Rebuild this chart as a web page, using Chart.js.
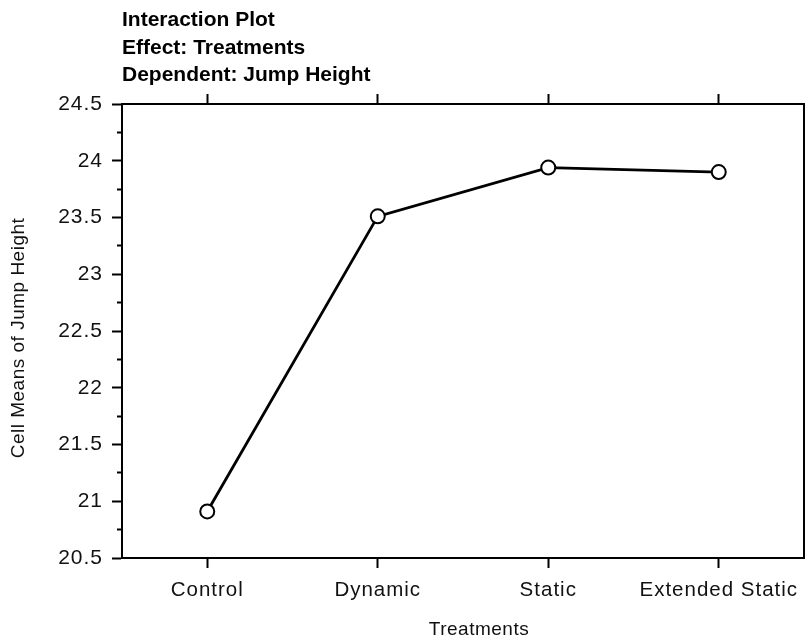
<!DOCTYPE html>
<html>
<head>
<meta charset="utf-8">
<script src="https://cdn.jsdelivr.net/npm/chart.js@4.4.0/dist/chart.umd.min.js"></script>
<style>
  html, body { margin: 0; padding: 0; background: #fff; }
  #wrap { width: 805px; height: 640px; }
</style>
</head>
<body>
<div id="wrap"><canvas id="chart"></canvas></div>
<script>
// ===============================
// DATA
// ===============================
const treatments = ["Control", "Dynamic", "Static", "Extended Static"];
const cellMeans = [20.91, 23.51, 23.94, 23.90];
const titleLines = ["Interaction Plot", "Effect: Treatments", "Dependent: Jump Height"];
const xAxisTitle = "Treatments";
const yAxisTitle = "Cell Means of Jump Height";
const yMin = 20.5;
const yMax = 24.5;
const yStep = 0.25;

const FONT = "'Liberation Sans', Arial, Helvetica, sans-serif";
const INK = "#000";

// ===============================
// TITLES + LETTER SPACING
// ===============================
const titleBlock = {
  id: "titleBlock",
  beforeDraw(chart) {
    chart.ctx.letterSpacing = "1px";
  },
  afterDraw(chart) {
    const ctx = chart.ctx;
    const area = chart.chartArea;
    ctx.save();
    ctx.fillStyle = INK;

    // header lines, no extra spacing
    ctx.letterSpacing = "0px";
    ctx.font = "bold 21px " + FONT;
    ctx.textAlign = "left";
    ctx.textBaseline = "alphabetic";
    titleLines.forEach((line, i) => {
      ctx.fillText(line, area.left, 26 + i * 27.5);
    });

    // axis titles
    ctx.letterSpacing = "0.5px";
    ctx.font = "19px " + FONT;
    ctx.fillStyle = "#111";
    ctx.textAlign = "center";
    ctx.textBaseline = "middle";
    ctx.fillText(xAxisTitle, (area.left + area.right) / 2 + 16, 629.5);

    ctx.save();
    ctx.translate(19, (area.top + area.bottom) / 2 + 7);
    ctx.rotate(-Math.PI / 2);
    ctx.fillText(yAxisTitle, 0, 0);
    ctx.restore();

    ctx.restore();
  }
};

const isMajor = v => Number.isInteger(Math.round(v * 1000) / 500);

// ===============================
// CHART
// ===============================
new Chart(document.getElementById("chart"), {
  type: "line",
  data: {
    labels: treatments,
    datasets: [{
      data: cellMeans,
      borderColor: INK,
      borderWidth: 2.8,
      tension: 0,
      pointRadius: 7,
      pointHoverRadius: 7,
      pointBorderWidth: 2,
      pointBorderColor: INK,
      pointBackgroundColor: "#fff"
    }]
  },
  options: {
    responsive: true,
    maintainAspectRatio: false,
    animation: false,
    layout: {
      autoPadding: false,
      padding: { top: 94, right: 1, bottom: 0, left: 0 }
    },
    plugins: {
      legend: { display: false },
      tooltip: { enabled: false },
      title: { display: false }
    },
    scales: {
      x: {
        type: "category",
        position: "bottom",
        offset: true,
        grid: {
          drawOnChartArea: false,
          drawTicks: true,
          tickLength: 10,
          tickWidth: 2,
          tickColor: INK,
          offset: false
        },
        border: { display: true, color: INK, width: 2 },
        ticks: {
          color: "#111",
          font: { family: FONT, size: 20.5, lineHeight: 1.2 },
          padding: 10,
          maxRotation: 0,
          autoSkip: false
        },
        afterFit: s => {
          s.height = 82;
          s.paddingLeft = 0;
          s.paddingRight = 0;
        }
      },
      xTop: {
        type: "category",
        position: "top",
        labels: treatments,
        offset: true,
        grid: {
          drawOnChartArea: false,
          drawTicks: true,
          tickLength: 10,
          tickWidth: 2,
          tickColor: INK,
          offset: false
        },
        border: { display: true, color: INK, width: 2 },
        ticks: { display: false },
        afterFit: s => {
          s.height = 10;
          s.paddingLeft = 0;
          s.paddingRight = 0;
        }
      },
      y: {
        type: "linear",
        position: "left",
        min: yMin,
        max: yMax,
        grid: {
          drawOnChartArea: false,
          drawTicks: true,
          tickLength: 10,
          tickWidth: 2,
          tickColor: INK,
          tickBorderDash: ctx => (ctx.tick && !isMajor(ctx.tick.value)) ? [0, 5, 50] : []
        },
        border: { display: true, color: INK, width: 2 },
        ticks: {
          stepSize: yStep,
          color: "#111",
          padding: 9,
          font: { family: FONT, size: 21, lineHeight: 1.2 },
          autoSkip: false,
          callback: v => isMajor(v) ? String(Math.round(v * 10) / 10) : ""
        },
        afterFit: s => {
          s.width = 122;
          s.paddingTop = 0;
          s.paddingBottom = 0;
        }
      },
      yRight: {
        type: "linear",
        position: "right",
        min: yMin,
        max: yMax,
        grid: { display: false, drawTicks: false },
        border: { display: true, color: INK, width: 2 },
        ticks: { display: false },
        afterFit: s => { s.width = 0; }
      }
    }
  },
  plugins: [titleBlock]
});
</script>
</body>
</html>
